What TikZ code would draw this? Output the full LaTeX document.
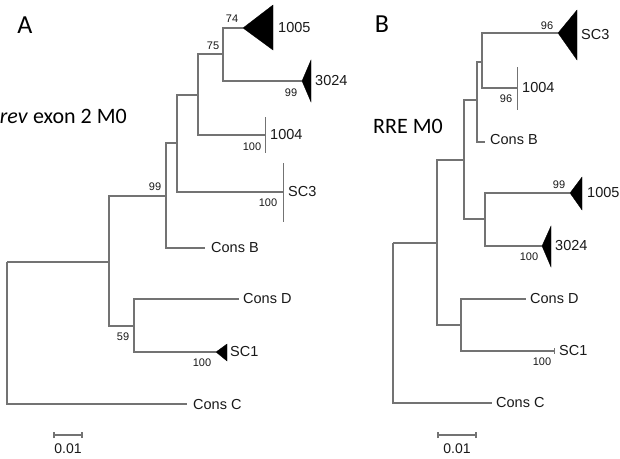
\documentclass[tikz,border=0pt]{standalone}
\usepackage{fontspec}
\setmainfont{Liberation Sans}
\newfontfamily\calib{Carlito}
\definecolor{edgegray}{RGB}{115,115,115}
\definecolor{txt}{RGB}{25,25,25}
\begin{document}
\begin{tikzpicture}[x=1pt,y=-1pt,
  edge/.style={draw=edgegray,line width=1.25pt},
  tri/.style={fill=black,draw=black,line width=0.3pt},
  taxon/.style={anchor=west,inner sep=0pt,text=txt,font=\fontsize{14.5}{15}\selectfont},
  boot/.style={inner sep=0pt,text=txt,font=\fontsize{11}{12}\selectfont},
  panel/.style={inner sep=0pt,font=\calib\fontsize{26}{27}\selectfont},
  ptitle/.style={inner sep=0pt,font=\calib\fontsize{22}{24}\selectfont}]
\useasboundingbox[fill=white] (0,0) rectangle (620,458);

% ---------------- Panel A ----------------
\node[panel,anchor=base] (labA) at (25,33) {A};
\node[ptitle,anchor=base east] (titA) at (127,123) {\textit{rev} exon 2 M0};

\coordinate (aRoot) at (7,262);
\coordinate (aT) at (109,262);
\coordinate (aS) at (166,196);
\coordinate (aR) at (177,143);
\coordinate (aP) at (198,95);
\coordinate (aQ) at (223,54);
\coordinate (aU) at (134,326);
\coordinate (a1005) at (243,28);
\coordinate (a3024) at (302,81);
\coordinate (a1004) at (265,135);
\coordinate (aSC3) at (283,192);
\coordinate (aConsB) at (205,248);
\coordinate (aConsD) at (239,299);
\coordinate (aSC1) at (216,352);
\coordinate (aConsC) at (187,404);

\draw[edge] (aRoot) |- (aT);
\draw[edge] (aRoot) |- (aConsC);
\draw[edge] (aT) |- (aS);
\draw[edge] (aT) |- (aU);
\draw[edge] (aS) |- (aR);
\draw[edge] (aS) |- (aConsB);
\draw[edge] (aR) |- (aP);
\draw[edge] (aR) |- (aSC3);
\draw[edge] (aP) |- (aQ);
\draw[edge] (aP) |- (a1004);
\draw[edge] (aQ) |- (a1005);
\draw[edge] (aQ) |- (a3024);
\draw[edge] (aU) |- (aConsD);
\draw[edge] (aU) |- (aSC1);

\fill[tri] (a1005) -- (273,5) -- (273,50) -- cycle;
\fill[tri] (a3024) -- (311,60) -- (311,102) -- cycle;
\fill[tri] (aSC1) -- (227,344) -- (227,361) -- cycle;
\draw[edge,line width=0.8pt] (265,117) -- (265,153);
\draw[edge,line width=0.8pt] (283,163) -- (283,222);

\node[taxon] (tA1005) at (278,28) {1005};
\node[taxon] (tA3024) at (315,81) {3024};
\node[taxon] (tA1004) at (270,135) {1004};
\node[taxon] (tASC3) at (288,192) {SC3};
\node[taxon] (tAConsB) at (211,248) {Cons B};
\node[taxon] (tAConsD) at (243,299) {Cons D};
\node[taxon] (tASC1) at (230,352) {SC1};
\node[taxon] (tAConsC) at (193,404) {Cons C};

\node[boot] (bA74) at (232,19) {74};
\node[boot] (bA75) at (213,46) {75};
\node[boot] (bA99a) at (291,93) {99};
\node[boot] (bA100a) at (252,147) {100};
\node[boot] (bA100b) at (268,203) {100};
\node[boot] (bA99b) at (155,187) {99};
\node[boot] (bA59) at (123,337) {59};
\node[boot] (bA100c) at (202,363) {100};

\coordinate (sA1) at (54,435);
\coordinate (sA2) at (82,435);
\draw[edge] (sA1) -- (sA2);
\draw[edge] ([yshift=-3pt]sA1) -- ([yshift=3pt]sA1);
\draw[edge] ([yshift=-3pt]sA2) -- ([yshift=3pt]sA2);
\node[boot,font=\fontsize{14}{15}\selectfont] (scA) at (68,449) {0.01};

% ---------------- Panel B ----------------
\node[panel,anchor=base] (labB) at (382,32) {B};
\node[ptitle,anchor=base west] (titB) at (373,133) {RRE M0};

\coordinate (bRoot) at (393,243);
\coordinate (bY) at (437,243);
\coordinate (bX) at (464,160);
\coordinate (bW) at (477,100);
\coordinate (bV) at (482,62);
\coordinate (bAA) at (485,219);
\coordinate (bZ) at (461,325);
\coordinate (bSC3) at (558,33);
\coordinate (b1004) at (517,88);
\coordinate (bConsB) at (485,142);
\coordinate (b1005) at (570,193);
\coordinate (b3024) at (542,246);
\coordinate (bConsD) at (526,299);
\coordinate (bSC1) at (554,351);
\coordinate (bConsC) at (492,403);

\draw[edge] (bRoot) |- (bY);
\draw[edge] (bRoot) |- (bConsC);
\draw[edge] (bY) |- (bX);
\draw[edge] (bY) |- (bZ);
\draw[edge] (bX) |- (bW);
\draw[edge] (bX) |- (bAA);
\draw[edge] (bW) |- (bV);
\draw[edge] (bW) |- (bConsB);
\draw[edge] (bV) |- (bSC3);
\draw[edge] (bV) |- (b1004);
\draw[edge] (bAA) |- (b1005);
\draw[edge] (bAA) |- (b3024);
\draw[edge] (bZ) |- (bConsD);
\draw[edge] (bZ) |- (bSC1);

\fill[tri] (bSC3) -- (577,10) -- (577,60) -- cycle;
\fill[tri] (b1005) -- (582,177) -- (582,210) -- cycle;
\fill[tri] (b3024) -- (551,226) -- (551,267) -- cycle;
\draw[edge,line width=0.8pt] (517,67) -- (517,110);
\draw[edge,line width=0.8pt] (554,348) -- (554,354);

\node[taxon] (tBSC3) at (581,35) {SC3};
\node[taxon] (tB1004) at (522,88) {1004};
\node[taxon] (tBConsB) at (490,140) {Cons B};
\node[taxon] (tB1005) at (587,193) {1005};
\node[taxon] (tB3024) at (555,246) {3024};
\node[taxon] (tBConsD) at (530,299) {Cons D};
\node[taxon] (tBSC1) at (559,351) {SC1};
\node[taxon] (tBConsC) at (496,403) {Cons C};

\node[boot] (bB96a) at (547,26) {96};
\node[boot] (bB96b) at (506,99) {96};
\node[boot] (bB99) at (559,185) {99};
\node[boot] (bB100a) at (529,257) {100};
\node[boot] (bB100b) at (542,362) {100};

\coordinate (sB1) at (438,435);
\coordinate (sB2) at (476,435);
\draw[edge] (sB1) -- (sB2);
\draw[edge] ([yshift=-3pt]sB1) -- ([yshift=3pt]sB1);
\draw[edge] ([yshift=-3pt]sB2) -- ([yshift=3pt]sB2);
\node[boot,font=\fontsize{14}{15}\selectfont] (scB) at (457,449) {0.01};
\end{tikzpicture}
\end{document}
